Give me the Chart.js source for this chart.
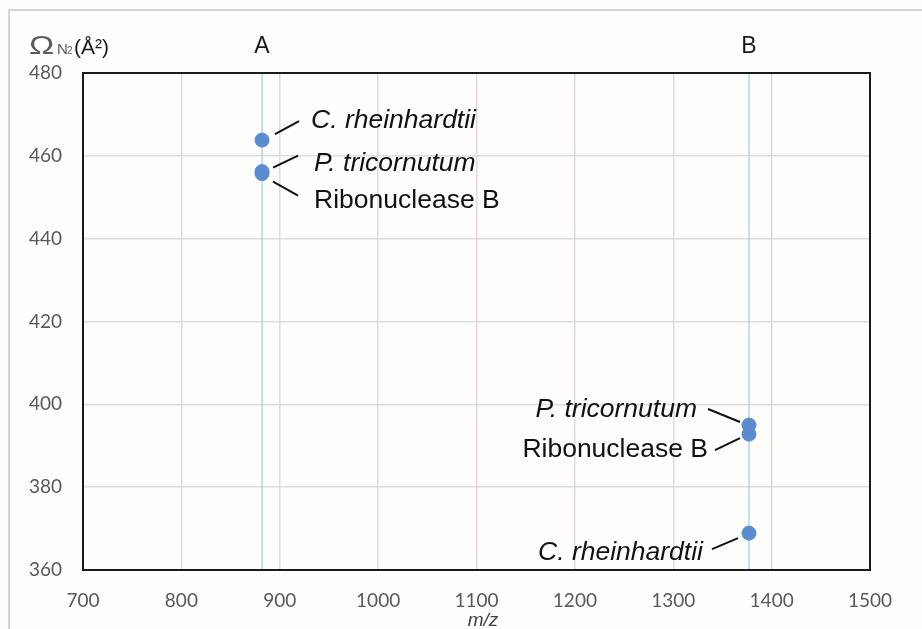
<!DOCTYPE html>
<html>
<head>
<meta charset="utf-8">
<script src="https://cdn.jsdelivr.net/npm/chart.js@4"></script>
<style>
  html,body{margin:0;padding:0;background:#fdfdfc;}
  #wrap{width:922px;height:629px;position:relative;}
</style>
</head>
<body>
<div id="wrap"><canvas id="c" width="922" height="629"></canvas></div>
<script>
// ---- data ----
const mzValues = [882, 882, 882, 1377, 1377, 1377];
const ccsValues = [463.8, 456.2, 455.7, 395.0, 392.8, 368.9];
const species = ['C. rheinhardtii', 'P. tricornutum', 'Ribonuclease B', 'P. tricornutum', 'Ribonuclease B', 'C. rheinhardtii'];
const speciesItalic = [true, true, false, true, false, true];
const markerLabels = ['A', 'B'];
const markerMz = [882, 1377];
const xTicks = [700, 800, 900, 1000, 1100, 1200, 1300, 1400, 1500];
const yTicks = [360, 380, 400, 420, 440, 460, 480];

// label leader/placement styles (pixel offsets from each point)
const labelStyle = [
  {l:[13,-6,37,-19], t:[49,-19], a:'left'},
  {l:[11,-4,36,-16], t:[52,-8], a:'left'},
  {l:[11,8,36,22],  t:[52,27], a:'left'},
  {l:[-9,-3,-41,-16], t:[-52,-15], a:'right'},
  {l:[-9,4,-34,16], t:[-41,16], a:'right'},
  {l:[-11,5,-37,16], t:[-46,19], a:'right'}
];

const pts = mzValues.map((x, i) => ({x: x, y: ccsValues[i]}));

const deco = {
  id: 'deco',
  beforeDraw(chart) {
    const ctx = chart.ctx;
    ctx.save();
    ctx.fillStyle = '#fdfdfc';
    ctx.fillRect(0, 0, chart.width, chart.height);
    ctx.strokeStyle = '#d8d3cf';
    ctx.lineWidth = 2;
    ctx.beginPath();
    ctx.moveTo(9, 629); ctx.lineTo(9, 10); ctx.lineTo(922, 10);
    ctx.stroke();
    ctx.restore();
  },
  beforeDatasetsDraw(chart) {
    const ctx = chart.ctx, xs = chart.scales.x, ca = chart.chartArea;
    ctx.save();
    ctx.strokeStyle = '#a9d9e6';
    ctx.lineWidth = 1.5;
    markerMz.forEach((m, i) => {
      const px = xs.getPixelForValue(m);
      ctx.beginPath(); ctx.moveTo(px, ca.top); ctx.lineTo(px, ca.bottom); ctx.stroke();
      ctx.fillStyle = '#1a1a1a';
      ctx.font = '23px "Liberation Sans", Arial, sans-serif';
      ctx.textAlign = 'center'; ctx.textBaseline = 'middle';
      ctx.fillText(markerLabels[i], px, 47);
    });
    // plot box
    ctx.strokeStyle = '#1a1a1a';
    ctx.lineWidth = 2;
    ctx.strokeRect(ca.left, ca.top, ca.right - ca.left, ca.bottom - ca.top);
    ctx.restore();
  },
  afterDatasetsDraw(chart) {
    const ctx = chart.ctx, xs = chart.scales.x, ys = chart.scales.y;
    ctx.save();
    pts.forEach((p, i) => {
      const px = xs.getPixelForValue(p.x), py = ys.getPixelForValue(p.y);
      const s = labelStyle[i];
      ctx.strokeStyle = '#111';
      ctx.lineWidth = 2;
      ctx.beginPath();
      ctx.moveTo(px + s.l[0], py + s.l[1]);
      ctx.lineTo(px + s.l[2], py + s.l[3]);
      ctx.stroke();
      ctx.fillStyle = '#111';
      ctx.font = (speciesItalic[i] ? 'italic ' : '') + '26.5px "Liberation Sans", Arial, sans-serif';
      ctx.textAlign = s.a; ctx.textBaseline = 'middle';
      ctx.fillText(species[i], px + s.t[0], py + s.t[1]);
    });
    // axis titles
    ctx.fillStyle = '#5c5c5c';
    ctx.textBaseline = 'alphabetic';
    ctx.textAlign = 'left';
    ctx.save();
    ctx.translate(29, 54);
    ctx.scale(1.3, 1);
    ctx.font = '26px "Liberation Sans", Arial, sans-serif';
    ctx.fillText('\u03A9', 0, 0);
    ctx.restore();
    ctx.font = '15px "Liberation Sans", Arial, sans-serif';
    ctx.fillText('N', 57, 54);
    ctx.font = '10px "Liberation Sans", Arial, sans-serif';
    ctx.fillText('2', 67, 54);
    ctx.fillStyle = '#1a1a1a';
    ctx.font = '21px "Liberation Sans", Arial, sans-serif';
    ctx.fillText('(\u00C5\u00B2)', 74, 54);
    ctx.fillStyle = '#404040';
    ctx.textAlign = 'center';
    ctx.font = 'italic 19px "Liberation Sans", Arial, sans-serif';
    ctx.fillText('m/z', 483, 626);
    ctx.restore();
  }
};

const tickFont = {family: 'Lato, "Liberation Sans", sans-serif', size: 19};

new Chart(document.getElementById('c'), {
  type: 'scatter',
  data: {
    datasets: [{
      data: pts,
      backgroundColor: '#5b8cd0',
      borderColor: '#5b8cd0',
      pointRadius: 7,
      pointHoverRadius: 7
    }]
  },
  options: {
    responsive: false,
    animation: false,
    events: [],
    layout: {padding: {top: 73, right: 52, left: 0, bottom: 0}},
    plugins: {legend: {display: false}, tooltip: {enabled: false}},
    scales: {
      x: {
        type: 'linear', min: 700, max: 1500,
        afterBuildTicks: s => { s.ticks = xTicks.map(v => ({value: v})); },
        afterFit: s => { s.height = 59; },
        grid: {color: '#e4dbd7', lineWidth: 1.5, drawTicks: false},
        border: {display: false},
        ticks: {padding: 19, color: '#595959', font: tickFont, callback: v => String(v)}
      },
      y: {
        type: 'linear', min: 360, max: 480,
        afterBuildTicks: s => { s.ticks = yTicks.map(v => ({value: v})); },
        afterFit: s => { s.width = 83; },
        grid: {color: '#e4dbd7', lineWidth: 1.5, drawTicks: false},
        border: {display: false},
        ticks: {padding: 21, color: '#595959', font: tickFont, callback: v => String(v)}
      }
    }
  },
  plugins: [deco]
});
</script>
</body>
</html>
